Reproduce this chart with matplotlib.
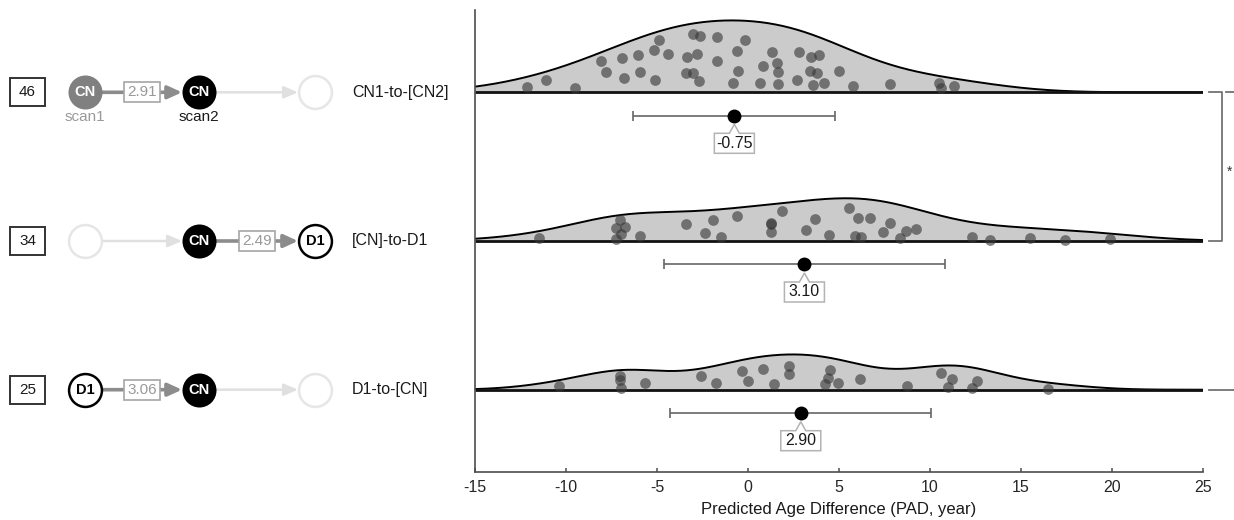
import numpy as np
import matplotlib
matplotlib.use('Agg')
import matplotlib.pyplot as plt
from matplotlib.patches import Rectangle, Polygon

plt.rcParams['font.family'] = ['Liberation Sans', 'DejaVu Sans']

# ---------------- data ----------------
groups = ['CN1-to-[CN2]', '[CN]-to-D1', 'D1-to-[CN]']
counts = [46, 34, 25]
intervals = ['2.91', '2.49', '3.06']
means = [-0.75, 3.10, 2.90]
sd_low = [-6.32, -4.62, -4.30]
sd_high = [4.76, 10.82, 10.08]

pad_cn1_cn2 = [-12.16, -11.10, -9.51, -8.08, -7.80, -6.94, -6.80, -6.03, -5.93, -5.16,
               -5.11, -4.89, -4.41, -3.33, -3.04, -2.82, -2.64, -3.41, -3.04, -2.71,
               -1.72, -1.72, -0.62, -0.57, -0.16, -0.84, 0.66, 0.84, 1.30, 1.58,
               1.67, 1.63, 2.67, 2.82, 3.44, 3.55, 3.92, 3.41, 3.77, 4.18,
               5.02, 5.75, 7.80, 10.51, 10.59, 11.32]
jit_cn1_cn2 = [5, 12.3, 4.7, 31.7, 20, 34, 14, 37, 20, 42.3,
               12.3, 52.3, 38.3, 35.7, 58, 38.3, 56.3, 19, 19.7, 11.3,
               55, 31.3, 41.7, 21, 52.3, 9.7, 9.7, 26.3, 40.7, 29,
               20, 8.3, 12.3, 40, 35, 7.3, 37.3, 21.7, 19.7, 9.7,
               21.7, 6.3, 8, 9, 4, 6.3]

pad_cn_d1 = [-11.48, -7.05, -7.23, -6.74, -6.96, -7.23, -5.95, -3.42, -2.38, -1.92,
             -1.46, -0.58, 1.28, 1.28, 1.28, 1.85, 3.17, 3.70, 4.45, 5.55,
             6.04, 5.86, 6.23, 6.69, 7.42, 7.79, 8.37, 8.70, 9.25, 12.31,
             13.32, 15.48, 17.40, 19.87]
jit_cn_d1 = [3.3, 20.7, 13.3, 14, 6.7, 1.7, 5, 16.7, 8.3, 20.7,
             4.3, 25, 18.3, 17.5, 9.3, 30, 10.7, 21.7, 6, 33.3,
             22.7, 5, 4, 22.7, 9.3, 18.3, 3.3, 10, 12.3, 4,
             0.7, 3.3, 0.7, 2.3]

pad_d1_cn = [-10.38, -7.01, -7.05, -6.96, -5.64, -2.56, -1.74, -0.31, 0.00, 0.82,
             1.41, 2.25, 2.25, 4.21, 4.40, 4.53, 4.95, 6.18, 8.74, 10.63,
             11.21, 10.99, 12.60, 12.33, 16.48]
jit_d1_cn = [4, 13.3, 10, 1.7, 6.7, 14, 6.7, 19, 9, 21,
             5.7, 23.3, 16, 6, 11.7, 19.3, 6.7, 10.7, 3.3, 16.7,
             10.7, 2.7, 9, 1.7, 0.7]

values = [pad_cn1_cn2, pad_cn_d1, pad_d1_cn]
jitters = [jit_cn1_cn2, jit_cn_d1, jit_d1_cn]
bandwidths = [3.3, 3.0, 2.3]

# diagram node states per row (scan positions 1..3)
nodes = [['CN_prev', 'CN', 'empty'],
         ['empty', 'CN', 'D1'],
         ['D1', 'CN', 'empty']]
links = [['strong', 'faint'],
         ['faint', 'strong'],
         ['strong', 'faint']]

xticks = [-15, -10, -5, 0, 5, 10, 15, 20, 25]
xlabel = 'Predicted Age Difference (PAD, year)'

# ---------------- layout ----------------
W, H = 1234, 520
fig = plt.figure(figsize=(W / 100, H / 100), dpi=100)
ax_top_px, ax_bot_px = 10, 472
PXY = 148.7            # pixels per row unit
PXX = 18.2             # pixels per x unit
row_y = [2, 1, 0]
base3_px = 389.7
ylim = (-(ax_bot_px - base3_px) / PXY, (base3_px - ax_top_px) / PXY)

ax = fig.add_axes([475 / W, (H - ax_bot_px) / H, (1203 - 475) / W, (ax_bot_px - ax_top_px) / H])
axl = fig.add_axes([0, (H - ax_bot_px) / H, 470 / W, (ax_bot_px - ax_top_px) / H])


def kde_counts(v, grid, bw):
    v = np.asarray(v, float)
    return np.exp(-0.5 * ((grid[:, None] - v[None, :]) / bw) ** 2).sum(1) / (bw * np.sqrt(2 * np.pi))


grid = np.linspace(-15, 25, 500)
dens = [kde_counts(v, grid, bw) for v, bw in zip(values, bandwidths)]
KC = 25.5   # px per (count / year)

for i in range(3):
    b = row_y[i]
    d = dens[i] * KC / PXY
    ax.fill_between(grid, b, b + d, color='#cbcbcb', lw=0, zorder=1)
    ax.plot(grid, b + d, color='black', lw=1.4, zorder=2)
    ax.plot([-15, 25], [b, b], color='#111111', lw=2.0, zorder=2, solid_capstyle='butt')
    ax.scatter(values[i], b + np.asarray(jitters[i]) / PXY, s=60, color='0.22', alpha=0.62,
               lw=0, zorder=3)
    ye = b - 23.4 / PXY
    ax.errorbar([means[i]], [ye], xerr=[[means[i] - sd_low[i]], [sd_high[i] - means[i]]],
                fmt='o', color='black', ms=9, ecolor='0.4', elinewidth=1.2, capsize=3.3,
                capthick=1.2, zorder=4)
    # callout box
    m = means[i]
    hw = 20 / PXX
    nw = 5 / PXX
    top = b - 41 / PXY
    bot = b - 61 / PXY
    apex = b - 32 / PXY
    poly = Polygon([(m - hw, top), (m - nw, top), (m, apex), (m + nw, top), (m + hw, top),
                    (m + hw, bot), (m - hw, bot)], closed=True, facecolor='white',
                   edgecolor='0.7', lw=1.1, zorder=4)
    ax.add_patch(poly)
    ax.text(m, (top + bot) / 2, f'{m:.2f}', ha='center', va='center', fontsize=11.5,
            color='0.1', zorder=5)

ax.set_xlim(-15, 25)
ax.set_ylim(*ylim)
ax.set_xticks(xticks)
ax.set_xticklabels([str(t) for t in xticks])
ax.set_yticks([])
for s in ['top', 'right']:
    ax.spines[s].set_visible(False)
for s in ['left', 'bottom']:
    ax.spines[s].set_color('0.3')
    ax.spines[s].set_linewidth(1.2)
ax.tick_params(axis='x', direction='in', length=3, width=1.1, color='0.3',
               labelsize=11.5, labelcolor='0.15', pad=6)
ax.set_xlabel(xlabel, fontsize=12, color='0.1', labelpad=5)


def px2x(px):
    return 25 + (px - 1203) / PXX


def py2y(py):
    return (base3_px - py) / PXY


gcol = '0.45'
kw = dict(color=gcol, lw=1.3, clip_on=False, zorder=5)
ax.plot([px2x(1209), px2x(1222), px2x(1222), px2x(1209)],
        [row_y[0], row_y[0], row_y[1], row_y[1]], **kw)
ax.plot([px2x(1226), px2x(1236)], [row_y[0], row_y[0]], **kw)
ax.plot([px2x(1209), px2x(1236)], [row_y[2], row_y[2]], **kw)
ax.text(px2x(1230), py2y(172), '*', ha='center', va='center', fontsize=10, color='0.2',
        clip_on=False)

# ---------------- left diagram ----------------
axl.set_xlim(0, 470)
axl.set_ylim(*ylim)
axl.axis('off')
node_x = [85, 199, 315]
R = 17
for i in range(3):
    y = row_y[i]
    # count box
    axl.add_patch(Rectangle((10, y - 14 / PXY), 35, 28 / PXY, facecolor='white',
                            edgecolor='0.2', lw=1.4, zorder=2))
    axl.text(27.5, y, str(counts[i]), ha='center', va='center', fontsize=11, color='0.1',
             zorder=3)
    # links
    for j in range(2):
        x1, x2 = node_x[j] + R, node_x[j + 1] - R
        if links[i][j] == 'strong':
            axl.annotate('', xy=(x2, y), xytext=(x1, y),
                         arrowprops=dict(arrowstyle='-|>,head_length=0.7,head_width=0.32',
                                         color='0.55', lw=2.6, shrinkA=0, shrinkB=0,
                                         mutation_scale=12), zorder=2)
            xc = (node_x[j] + node_x[j + 1]) / 2
            axl.add_patch(Rectangle((xc - 18, y - 10 / PXY), 36, 20 / PXY, facecolor='white',
                                    edgecolor='0.65', lw=1.2, zorder=3))
            axl.text(xc, y, intervals[i], ha='center', va='center', fontsize=11,
                     color='0.6', zorder=4)
        else:
            axl.annotate('', xy=(x2, y), xytext=(x1, y),
                         arrowprops=dict(arrowstyle='-|>,head_length=0.7,head_width=0.3',
                                         color='0.88', lw=1.8, shrinkA=0, shrinkB=0,
                                         mutation_scale=12), zorder=2)
    # nodes
    for j in range(3):
        st = nodes[i][j]
        x = node_x[j]
        if st == 'CN_prev':
            axl.scatter([x], [y], s=600, color='0.5', lw=0, zorder=4)
            axl.text(x, y, 'CN', ha='center', va='center', fontsize=10.5, fontweight='bold',
                     color='white', zorder=5)
        elif st == 'CN':
            axl.scatter([x], [y], s=600, color='black', lw=0, zorder=4)
            axl.text(x, y, 'CN', ha='center', va='center', fontsize=10.5, fontweight='bold',
                     color='white', zorder=5)
        elif st == 'D1':
            axl.scatter([x], [y], s=560, facecolor='white', edgecolor='black', lw=1.8, zorder=4)
            axl.text(x, y, 'D1', ha='center', va='center', fontsize=10.5, fontweight='bold',
                     color='black', zorder=5)
        else:
            axl.scatter([x], [y], s=560, facecolor='white', edgecolor='0.9', lw=1.8, zorder=4)
    axl.text(352, y, groups[i], ha='left', va='center', fontsize=11.5, color='0.1')

axl.text(node_x[0], row_y[0] - 25 / PXY, 'scan1', ha='center', va='center', fontsize=11,
         color='0.6')
axl.text(node_x[1], row_y[0] - 25 / PXY, 'scan2', ha='center', va='center', fontsize=11,
         color='0.1')

fig.savefig('out.png', dpi=100)
